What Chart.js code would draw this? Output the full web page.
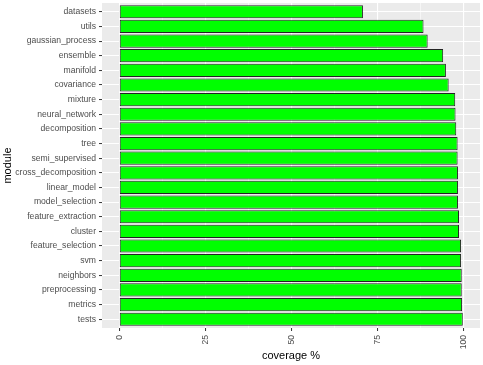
<!DOCTYPE html>
<html>
<head>
<meta charset="utf-8">
<script src="https://cdn.jsdelivr.net/npm/chart.js@4"></script>
<style>
  html, body { margin: 0; padding: 0; background: #fff; }
  #wrap { width: 483px; height: 365px; }
</style>
</head>
<body>
<div id="wrap"><canvas id="chart" width="483" height="365"></canvas></div>
<script>
const modules = ['datasets', 'utils', 'gaussian_process', 'ensemble', 'manifold', 'covariance',
  'mixture', 'neural_network', 'decomposition', 'tree', 'semi_supervised', 'cross_decomposition',
  'linear_model', 'model_selection', 'feature_extraction', 'cluster', 'feature_selection', 'svm',
  'neighbors', 'preprocessing', 'metrics', 'tests'];

const coverage = [70.8, 88.4, 89.6, 94.1, 94.9, 95.7,
  97.6, 97.7, 97.9, 98.3, 98.3, 98.4,
  98.4, 98.4, 98.7, 98.7, 99.3, 99.3,
  99.5, 99.5, 99.6, 99.8];

const xTicks = [0, 12.5, 25, 37.5, 50, 62.5, 75, 87.5, 100];

const fontFam = '"Liberation Sans", Arial, sans-serif';

// fond gris du panneau
const panelBg = {
  id: 'panelBg',
  beforeDraw(chart) {
    const a = chart.chartArea;
    const ctx = chart.ctx;
    ctx.save();
    ctx.fillStyle = '#EBEBEB';
    ctx.fillRect(a.left, a.top, a.right - a.left, a.bottom - a.top);
    ctx.restore();
  }
};

const isMajor = v => v % 25 === 0;

// une barre par module, position = rang dans la liste
const points = modules.map((m, i) => ({ x: coverage[i], y: i }));

new Chart(document.getElementById('chart').getContext('2d'), {
  type: 'bar',
  data: {
    datasets: [{
      data: points,
      backgroundColor: '#00FF00',
      borderColor: 'rgba(0,0,0,0.85)',
      borderWidth: 1,
      borderSkipped: false,
      categoryPercentage: 0.9,
      barPercentage: 1
    }]
  },
  options: {
    indexAxis: 'y',
    responsive: false,
    animation: false,
    layout: { padding: { top: 3, right: 3, left: 0, bottom: 0 } },
    plugins: {
      legend: { display: false },
      tooltip: { enabled: false }
    },
    scales: {
      x: {
        type: 'linear',
        min: -4.99,
        max: 104.8,
        afterBuildTicks: scale => { scale.ticks = xTicks.map(v => ({ value: v })); },
        afterFit: scale => {
          scale.height = 37;
          scale.paddingLeft = 0;
          scale.paddingRight = 0;
        },
        border: { display: false },
        grid: {
          color: '#FFFFFF',
          lineWidth: ctx => (ctx.tick && isMajor(ctx.tick.value)) ? 1.1 : 0.55,
          tickColor: ctx => (ctx.tick && isMajor(ctx.tick.value)) ? '#333333' : 'rgba(0,0,0,0)',
          tickWidth: 1,
          tickLength: 3
        },
        ticks: {
          autoSkip: false,
          minRotation: 90,
          maxRotation: 90,
          padding: 4,
          color: '#4D4D4D',
          font: { family: fontFam, size: 8.6 },
          callback: v => isMajor(v) ? String(v) : ''
        },
        title: {
          display: true,
          text: 'coverage %',
          color: '#000000',
          font: { family: fontFam, size: 11 },
          padding: { top: 0, bottom: 2 }
        }
      },
      y: {
        type: 'linear',
        reverse: true,
        offset: false,
        min: -0.6,
        max: modules.length - 1 + 0.6,
        afterBuildTicks: scale => { scale.ticks = modules.map((m, i) => ({ value: i })); },
        afterFit: scale => {
          scale.width = 102;
          scale.paddingTop = 0;
          scale.paddingBottom = 0;
        },
        border: { display: false },
        grid: {
          offset: false,
          color: '#FFFFFF',
          lineWidth: 1.1,
          tickColor: '#333333',
          tickWidth: 1,
          tickLength: 3
        },
        ticks: {
          autoSkip: false,
          padding: 3,
          color: '#4D4D4D',
          font: { family: fontFam, size: 8.6 },
          callback: v => modules[v]
        },
        title: {
          display: true,
          text: 'module',
          color: '#000000',
          font: { family: fontFam, size: 11 },
          padding: { top: 1, bottom: 0 }
        }
      }
    }
  },
  plugins: [panelBg]
});
</script>
</body>
</html>
